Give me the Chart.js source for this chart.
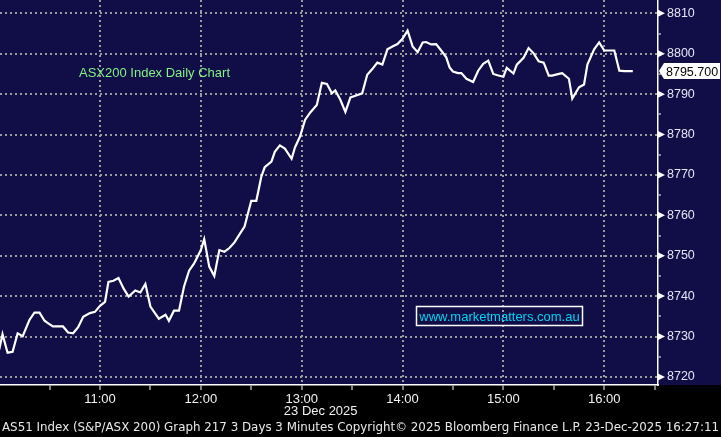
<!DOCTYPE html>
<html>
<head>
<meta charset="utf-8">
<script src="https://cdn.jsdelivr.net/npm/chart.js@4/dist/chart.umd.min.js"></script>
<style>
  body { margin: 0; background: #000; }
  canvas { display: block; }
</style>
</head>
<body>
<canvas id="chart" width="721" height="437"></canvas>
<script>
// minutes after 10:00 on 23 Dec 2025, and the index level at that time
const minutes = [0, 2, 5, 8, 11, 14, 18, 21, 24, 27, 29, 32, 38, 41, 44, 47, 50, 54, 57, 60,
  63, 65, 68, 71, 74, 77, 81, 84, 87, 90, 93, 95, 99, 101, 104, 107, 110, 113, 116, 120,
  122, 125, 128, 131, 134, 137, 140, 143, 146, 150, 153, 156, 158, 162, 164, 167, 170, 174, 176, 179,
  182, 185, 189, 192, 195, 198, 200, 203, 206, 209, 212, 216, 219, 222, 225, 228, 231, 234, 237, 240,
  243, 246, 249, 252, 254, 257, 260, 263, 266, 268, 270, 273, 275, 278, 282, 285, 288, 291, 294, 297,
  300, 302, 306, 308, 312, 315, 318, 321, 324, 327, 329, 333, 335, 339, 341, 345, 348, 350, 354, 357,
  360, 363, 366, 369, 372, 377];
const prices = [8726.7, 8730.6, 8726.0, 8726.2, 8730.8, 8730.1, 8734.1, 8735.9, 8735.9, 8733.9, 8733.3, 8732.5, 8732.5, 8731.0, 8730.8, 8732.3, 8734.9, 8735.8, 8736.1, 8737.6,
  8738.6, 8743.5, 8743.8, 8744.5, 8741.9, 8739.9, 8741.4, 8740.9, 8743.0, 8737.4, 8735.6, 8734.4, 8735.4, 8733.9, 8736.4, 8736.4, 8742.4, 8746.3, 8748.1, 8751.4,
  8754.1, 8747.3, 8745.0, 8751.4, 8751.0, 8751.9, 8753.3, 8755.3, 8757.2, 8763.6, 8763.6, 8769.6, 8771.9, 8773.3, 8775.7, 8777.3, 8776.5, 8774.0, 8776.8, 8779.5,
  8783.6, 8785.4, 8787.3, 8792.8, 8792.5, 8790.2, 8790.9, 8788.6, 8785.6, 8789.2, 8789.6, 8790.2, 8794.8, 8796.2, 8797.8, 8797.3, 8801.1, 8801.8, 8802.4, 8803.7,
  8805.7, 8801.8, 8800.4, 8802.8, 8802.9, 8802.3, 8802.4, 8800.8, 8799.1, 8796.6, 8795.6, 8795.2, 8795.2, 8793.8, 8793.0, 8795.8, 8797.5, 8798.3, 8795.0, 8794.6,
  8794.3, 8796.5, 8795.1, 8797.3, 8799.0, 8801.4, 8800.1, 8798.1, 8797.8, 8794.6, 8794.6, 8795.0, 8795.2, 8793.8, 8788.9, 8791.7, 8792.4, 8797.3, 8801.1, 8802.8,
  8800.8, 8800.8, 8800.8, 8795.8, 8795.7, 8795.7];

const xTickMinutes = [30, 60, 90, 120, 150, 180, 210, 240, 270, 300, 330, 360, 390];
const xTickLabels = { 60: "11:00", 120: "12:00", 180: "13:00", 240: "14:00", 300: "15:00", 360: "16:00" };
const yTickValues = [8720, 8725, 8730, 8735, 8740, 8745, 8750, 8755, 8760, 8765, 8770, 8775,
  8780, 8785, 8790, 8795, 8800, 8805, 8810];
const lastPrice = 8795.7;

const titleText = "ASX200 Index Daily Chart";
const siteText = "www.marketmatters.com.au";
const dateText = "23 Dec 2025";
const footerText = "AS51 Index (S&P/ASX 200) Graph 217 3 Days 3 Minutes Copyright\u00A9 2025 Bloomberg Finance L.P. 23-Dec-2025 16:27:11";

const NAVY = "#100d47";
const GRID = "#9c9c9c";

const points = minutes.map((m, i) => ({ x: m, y: prices[i] }));

// paint navy plot area + black strip below
const backdrop = {
  id: "backdrop",
  beforeDraw(chart) {
    const { ctx, width, height, chartArea } = chart;
    ctx.save();
    ctx.fillStyle = "#000";
    ctx.fillRect(0, 0, width, height);
    ctx.fillStyle = NAVY;
    ctx.fillRect(0, 0, width, chartArea.bottom);
    ctx.restore();
  }
};

// bloomberg style extras: arrow ticks, price tag, captions
const extras = {
  id: "extras",
  afterDraw(chart) {
    const { ctx, chartArea } = chart;
    const y = chart.scales.y;
    const x = chart.scales.x;
    ctx.save();

    // arrow markers on labelled y ticks
    ctx.fillStyle = "#ffffff";
    yTickValues.forEach(v => {
      if (v % 10 !== 0) return;
      const py = y.getPixelForValue(v);
      ctx.beginPath();
      ctx.moveTo(chartArea.right, py - 3.5);
      ctx.lineTo(chartArea.right + 7, py);
      ctx.lineTo(chartArea.right, py + 3.5);
      ctx.closePath();
      ctx.fill();
    });

    // last price tag
    const ty = y.getPixelForValue(lastPrice);
    const left = chartArea.right + 1;
    ctx.beginPath();
    ctx.moveTo(left, ty);
    ctx.lineTo(left + 5, ty - 8);
    ctx.lineTo(720, ty - 8);
    ctx.lineTo(720, ty + 8);
    ctx.lineTo(left + 5, ty + 8);
    ctx.closePath();
    ctx.fillStyle = "#ffffff";
    ctx.fill();
    ctx.fillStyle = "#000000";
    ctx.font = "12.5px 'Liberation Sans', Arial, sans-serif";
    ctx.textBaseline = "middle";
    ctx.textAlign = "left";
    ctx.fillText(lastPrice.toFixed(3), left + 7, ty + 1);

    // title
    ctx.fillStyle = "#84f284";
    ctx.font = "13px 'Liberation Sans', Arial, sans-serif";
    ctx.fillText(titleText, 79, 73);

    // website box
    ctx.strokeStyle = "#ffffff";
    ctx.lineWidth = 1.5;
    ctx.strokeRect(416.5, 306.5, 166, 19);
    ctx.fillStyle = "#00d4f0";
    ctx.textAlign = "center";
    ctx.fillText(siteText, 499.5, 317);

    // date under the time axis
    ctx.fillStyle = "#f2f2f2";
    ctx.fillText(dateText, x.getPixelForValue(180) + 19, 411);

    // footer line stretched across the width
    ctx.font = "13px 'DejaVu Sans Condensed', 'Liberation Sans Narrow', sans-serif";
    ctx.textAlign = "left";
    const w = ctx.measureText(footerText).width;
    ctx.translate(2, 428);
    ctx.scale(717 / w, 1);
    ctx.fillStyle = "#e9e9e9";
    ctx.fillText(footerText, 0, 0);
    ctx.restore();
  }
};

function noPad(s) {
  s.paddingTop = 0;
  s.paddingBottom = 0;
  s.paddingLeft = 0;
  s.paddingRight = 0;
}

new Chart(document.getElementById("chart"), {
  type: "line",
  data: {
    datasets: [{
      data: points,
      borderColor: "#ffffff",
      borderWidth: 2.2,
      pointRadius: 0,
      tension: 0,
      fill: false
    }]
  },
  options: {
    responsive: false,
    animation: false,
    layout: { padding: 0 },
    plugins: {
      legend: { display: false },
      tooltip: { enabled: false }
    },
    scales: {
      x: {
        type: "linear",
        position: "bottom",
        min: 0.5,
        max: 392,
        afterBuildTicks: s => { s.ticks = xTickMinutes.map(v => ({ value: v })); },
        afterFit: s => { s.height = 52; noPad(s); },
        ticks: {
          autoSkip: false,
          maxRotation: 0,
          padding: 2,
          color: "#f2f2f2",
          font: { family: "'Liberation Sans', Arial, sans-serif", size: 13 },
          callback: v => xTickLabels[v] || ""
        },
        grid: {
          color: c => (c.tick && c.tick.value % 60 === 0) ? GRID : "rgba(0,0,0,0)",
          lineWidth: 2,
          tickColor: "#ffffff",
          tickLength: 5,
          tickWidth: 1
        },
        border: { color: "#ffffff", width: 1.5, dash: [2, 3] }
      },
      y: {
        position: "right",
        min: 8718,
        max: 8813.3,
        afterBuildTicks: s => { s.ticks = yTickValues.map(v => ({ value: v })); },
        afterFit: s => { s.width = 63; noPad(s); },
        ticks: {
          padding: 6,
          color: "#e6e6f6",
          font: { family: "'Liberation Sans', Arial, sans-serif", size: 12.5 },
          callback: v => (v % 10 === 0 ? String(v) : "")
        },
        grid: {
          color: c => (c.tick && c.tick.value % 10 === 0) ? GRID : "rgba(0,0,0,0)",
          lineWidth: 2,
          tickColor: "#ffffff",
          tickLength: 3,
          tickWidth: 1
        },
        border: { color: "#ffffff", width: 1.5, dash: [2, 3] }
      }
    }
  },
  plugins: [backdrop, extras]
});
</script>
</body>
</html>
